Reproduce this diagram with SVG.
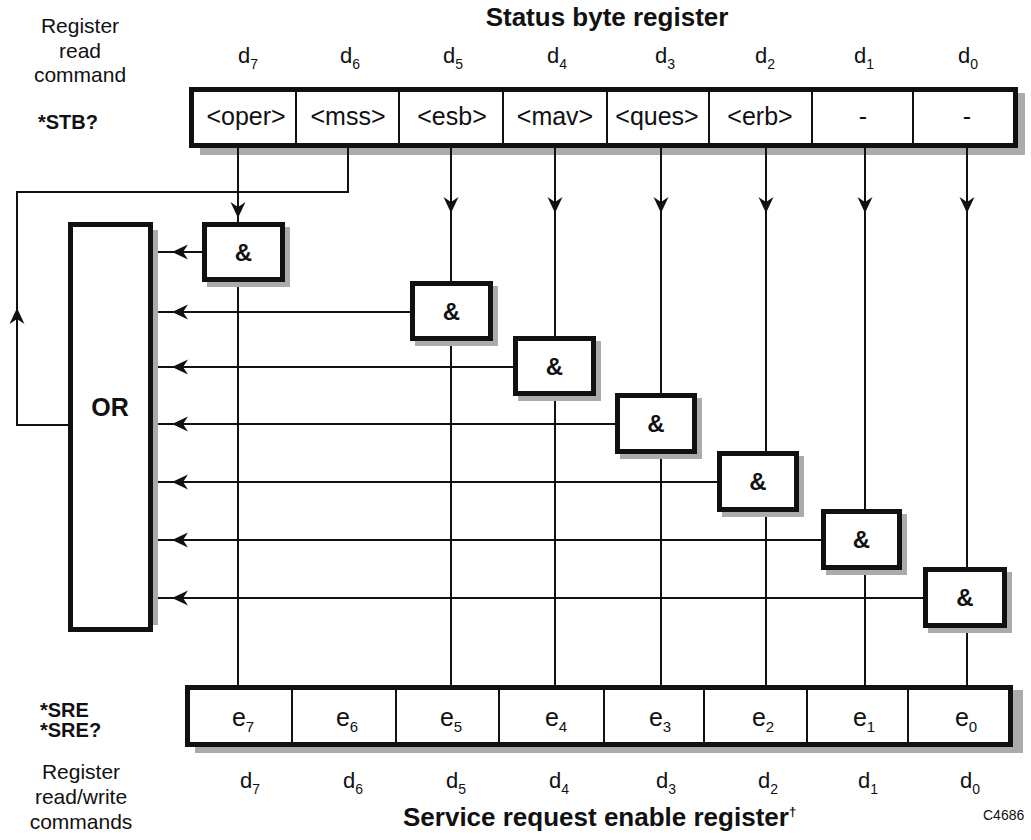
<svg xmlns="http://www.w3.org/2000/svg" xmlns:xlink="http://www.w3.org/1999/xlink" width="1031" height="840" viewBox="0 0 1031 840">
<style>
  .t { font-family: "Liberation Sans", Arial, sans-serif; fill: #111; }
  .b { font-weight: bold; }
  .reg { fill: #fff; stroke: #111; stroke-width: 5; }
  .div { stroke: #111; stroke-width: 2; }
  .gate { fill: #fff; stroke: #111; stroke-width: 5; }
  .sh { fill: #ababab; }
  .wire { fill: none; stroke: #111; stroke-width: 2; }
  .ah { fill: #111; }
</style>
<defs>
  <path id="ahD" d="M0,0 L-7.5,-16 L0,-11 L7.5,-16 Z"/>
  <path id="ahL" d="M0,0 L16,-7.5 L11,0 L16,7.5 Z"/>
  <path id="ahU" d="M0,0 L-7.5,16 L0,11 L7.5,16 Z"/>
</defs>
<rect width="1031" height="840" fill="#fff"/>

<g id="titles">
  <text class="t b" x="607" y="26" font-size="26" text-anchor="middle">Status byte register</text>
  <text class="t b" x="403" y="826" font-size="26">Service request enable register<tspan font-size="13" dy="-10">†</tspan></text>
  <text class="t" x="983" y="820" font-size="14">C4686</text>
</g>

<g id="left-labels">
  <text class="t" x="80" y="33" font-size="21" text-anchor="middle">Register</text>
  <text class="t" x="80" y="58" font-size="21" text-anchor="middle">read</text>
  <text class="t" x="80" y="82" font-size="21" text-anchor="middle">command</text>
  <text class="t b" x="38" y="129" font-size="20">*STB?</text>
  <text class="t b" x="40" y="717" font-size="20">*SRE</text>
  <text class="t b" x="40" y="737" font-size="20">*SRE?</text>
  <text class="t" x="81" y="779" font-size="21" text-anchor="middle">Register</text>
  <text class="t" x="81" y="804" font-size="21" text-anchor="middle">read/write</text>
  <text class="t" x="81" y="829" font-size="21" text-anchor="middle">commands</text>
</g>

<g id="top-bit-labels" class="t" font-size="22" text-anchor="middle">
  <text x="248" y="63">d<tspan font-size="14" dy="6">7</tspan></text>
  <text x="350" y="63">d<tspan font-size="14" dy="6">6</tspan></text>
  <text x="453" y="63">d<tspan font-size="14" dy="6">5</tspan></text>
  <text x="557" y="63">d<tspan font-size="14" dy="6">4</tspan></text>
  <text x="665" y="63">d<tspan font-size="14" dy="6">3</tspan></text>
  <text x="765" y="63">d<tspan font-size="14" dy="6">2</tspan></text>
  <text x="864" y="63">d<tspan font-size="14" dy="6">1</tspan></text>
  <text x="968" y="63">d<tspan font-size="14" dy="6">0</tspan></text>
</g>

<g id="bottom-bit-labels" class="t" font-size="22" text-anchor="middle">
  <text x="250" y="788">d<tspan font-size="14" dy="6">7</tspan></text>
  <text x="353" y="788">d<tspan font-size="14" dy="6">6</tspan></text>
  <text x="456" y="788">d<tspan font-size="14" dy="6">5</tspan></text>
  <text x="559" y="788">d<tspan font-size="14" dy="6">4</tspan></text>
  <text x="666" y="788">d<tspan font-size="14" dy="6">3</tspan></text>
  <text x="768" y="788">d<tspan font-size="14" dy="6">2</tspan></text>
  <text x="868" y="788">d<tspan font-size="14" dy="6">1</tspan></text>
  <text x="970" y="788">d<tspan font-size="14" dy="6">0</tspan></text>
</g>

<g id="status-byte-register">
  <rect class="sh" x="200" y="148" width="825" height="7"/>
  <rect class="sh" x="1018" y="93" width="7" height="62"/>
  <rect class="reg" x="191.5" y="89.5" width="824" height="56"/>
  <line class="div" x1="296" y1="89" x2="296" y2="146"/>
  <line class="div" x1="399" y1="89" x2="399" y2="146"/>
  <line class="div" x1="503" y1="89" x2="503" y2="146"/>
  <line class="div" x1="607" y1="89" x2="607" y2="146"/>
  <line class="div" x1="709" y1="89" x2="709" y2="146"/>
  <line class="div" x1="812" y1="89" x2="812" y2="146"/>
  <line class="div" x1="913" y1="89" x2="913" y2="146"/>
  <g class="t" font-size="25" text-anchor="middle">
    <text x="246" y="125">&lt;oper&gt;</text>
    <text x="348" y="125">&lt;mss&gt;</text>
    <text x="452" y="125">&lt;esb&gt;</text>
    <text x="555" y="125">&lt;mav&gt;</text>
    <text x="657" y="125">&lt;ques&gt;</text>
    <text x="760" y="125">&lt;erb&gt;</text>
    <text x="863" y="125">-</text>
    <text x="967" y="125">-</text>
  </g>
</g>

<g id="service-request-enable-register">
  <rect class="sh" x="195" y="747" width="828" height="6"/>
  <rect class="sh" x="1013" y="690" width="10" height="63"/>
  <rect class="reg" x="187.5" y="687.5" width="823" height="57"/>
  <line class="div" x1="292" y1="687" x2="292" y2="745"/>
  <line class="div" x1="396" y1="687" x2="396" y2="745"/>
  <line class="div" x1="499" y1="687" x2="499" y2="745"/>
  <line class="div" x1="604" y1="687" x2="604" y2="745"/>
  <line class="div" x1="704" y1="687" x2="704" y2="745"/>
  <line class="div" x1="807" y1="687" x2="807" y2="745"/>
  <line class="div" x1="908" y1="687" x2="908" y2="745"/>
  <g class="t" font-size="25" text-anchor="middle">
    <text x="243" y="726">e<tspan font-size="15" dy="6">7</tspan></text>
    <text x="347" y="726">e<tspan font-size="15" dy="6">6</tspan></text>
    <text x="451" y="726">e<tspan font-size="15" dy="6">5</tspan></text>
    <text x="556" y="726">e<tspan font-size="15" dy="6">4</tspan></text>
    <text x="660" y="726">e<tspan font-size="15" dy="6">3</tspan></text>
    <text x="763" y="726">e<tspan font-size="15" dy="6">2</tspan></text>
    <text x="864" y="726">e<tspan font-size="15" dy="6">1</tspan></text>
    <text x="966" y="726">e<tspan font-size="15" dy="6">0</tspan></text>
  </g>
</g>

<g id="connectors">
  <path class="wire" d="M238,148 V222"/>
  <path class="wire" d="M451,148 V281"/>
  <path class="wire" d="M555,148 V336"/>
  <path class="wire" d="M661,148 V393"/>
  <path class="wire" d="M766,148 V451"/>
  <path class="wire" d="M865,148 V509"/>
  <path class="wire" d="M967,148 V567"/>
  <use href="#ahD" xlink:href="#ahD" class="ah" x="238" y="218"/>
  <use href="#ahD" xlink:href="#ahD" class="ah" x="451" y="213"/>
  <use href="#ahD" xlink:href="#ahD" class="ah" x="555" y="213"/>
  <use href="#ahD" xlink:href="#ahD" class="ah" x="661" y="213"/>
  <use href="#ahD" xlink:href="#ahD" class="ah" x="766" y="213"/>
  <use href="#ahD" xlink:href="#ahD" class="ah" x="865" y="213"/>
  <use href="#ahD" xlink:href="#ahD" class="ah" x="967" y="213"/>
  <path class="wire" d="M238,282 V686"/>
  <path class="wire" d="M451,341 V686"/>
  <path class="wire" d="M555,396 V686"/>
  <path class="wire" d="M661,454 V686"/>
  <path class="wire" d="M766,512 V686"/>
  <path class="wire" d="M865,570 V686"/>
  <path class="wire" d="M967,628 V686"/>
  <path class="wire" d="M202,252 H153"/>
  <path class="wire" d="M410,312 H153"/>
  <path class="wire" d="M513,367 H153"/>
  <path class="wire" d="M615,424 H153"/>
  <path class="wire" d="M717,482 H153"/>
  <path class="wire" d="M821,540 H153"/>
  <path class="wire" d="M923,598 H153"/>
  <use href="#ahL" xlink:href="#ahL" class="ah" x="172" y="252"/>
  <use href="#ahL" xlink:href="#ahL" class="ah" x="172" y="312"/>
  <use href="#ahL" xlink:href="#ahL" class="ah" x="172" y="367"/>
  <use href="#ahL" xlink:href="#ahL" class="ah" x="172" y="424"/>
  <use href="#ahL" xlink:href="#ahL" class="ah" x="172" y="482"/>
  <use href="#ahL" xlink:href="#ahL" class="ah" x="172" y="540"/>
  <use href="#ahL" xlink:href="#ahL" class="ah" x="172" y="598"/>
  <path class="wire" d="M69,425 H17 V192 H348 V148"/>
  <use href="#ahU" xlink:href="#ahU" class="ah" x="17" y="308"/>
</g>

<g id="or-gate">
  <rect class="sh" x="153" y="230" width="5" height="395"/>
  <rect class="gate" x="70.5" y="224.5" width="80" height="405"/>
  <text class="t b" x="110" y="416" font-size="25" text-anchor="middle">OR</text>
</g>

<g id="and-d7">
  <rect class="sh" x="207" y="227" width="83" height="60"/>
  <rect class="gate" x="204.5" y="224.5" width="78" height="55"/>
  <text class="t b" x="243.5" y="261" font-size="24" text-anchor="middle">&amp;</text>
</g>
<g id="and-d5">
  <rect class="sh" x="415" y="286" width="83" height="60"/>
  <rect class="gate" x="412.5" y="283.5" width="78" height="55"/>
  <text class="t b" x="451.5" y="320" font-size="24" text-anchor="middle">&amp;</text>
</g>
<g id="and-d4">
  <rect class="sh" x="518" y="341" width="83" height="60"/>
  <rect class="gate" x="515.5" y="338.5" width="78" height="55"/>
  <text class="t b" x="554.5" y="375" font-size="24" text-anchor="middle">&amp;</text>
</g>
<g id="and-d3">
  <rect class="sh" x="620" y="398" width="82" height="61"/>
  <rect class="gate" x="617.5" y="395.5" width="77" height="56"/>
  <text class="t b" x="656" y="432" font-size="24" text-anchor="middle">&amp;</text>
</g>
<g id="and-d2">
  <rect class="sh" x="722" y="456" width="82" height="61"/>
  <rect class="gate" x="719.5" y="453.5" width="77" height="56"/>
  <text class="t b" x="758" y="490" font-size="24" text-anchor="middle">&amp;</text>
</g>
<g id="and-d1">
  <rect class="sh" x="826" y="514" width="81" height="61"/>
  <rect class="gate" x="823.5" y="511.5" width="76" height="56"/>
  <text class="t b" x="861.5" y="548" font-size="24" text-anchor="middle">&amp;</text>
</g>
<g id="and-d0">
  <rect class="sh" x="928" y="572" width="84" height="61"/>
  <rect class="gate" x="925.5" y="569.5" width="79" height="56"/>
  <text class="t b" x="965" y="606" font-size="24" text-anchor="middle">&amp;</text>
</g>
</svg>
